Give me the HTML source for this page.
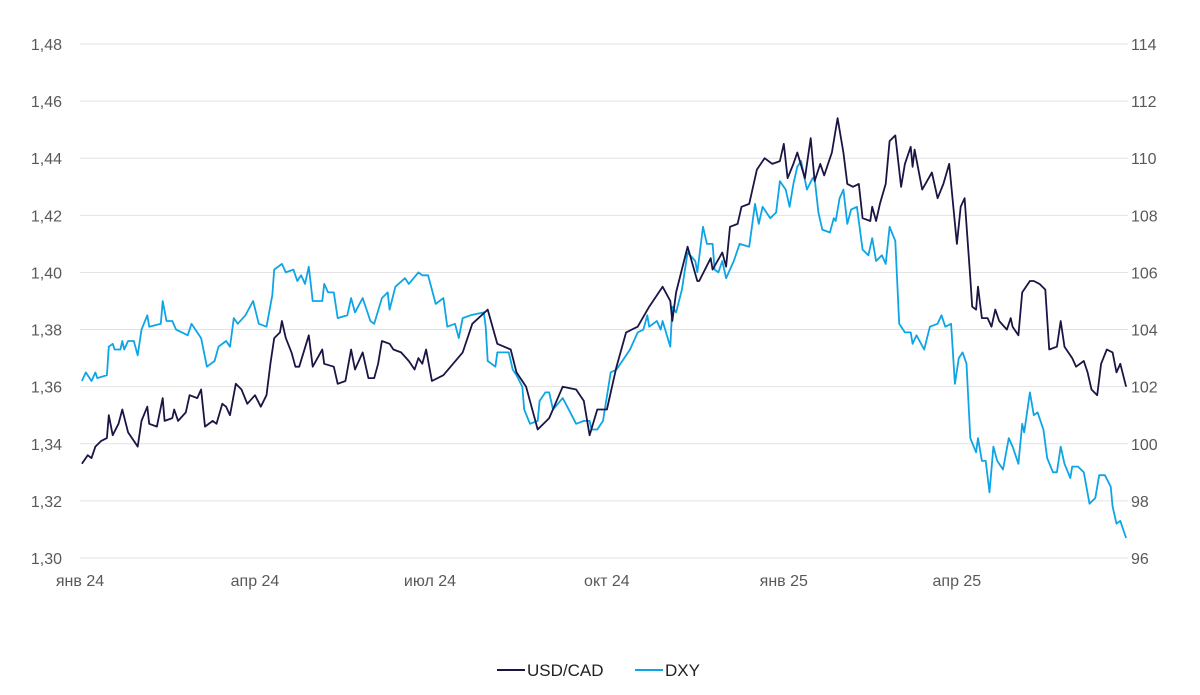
<!DOCTYPE html>
<html><head><meta charset="utf-8"><style>
html,body{margin:0;padding:0;background:#fff;}
svg{display:block;font-family:"Liberation Sans",Arial,sans-serif;}
</style></head><body>
<svg id="chart" width="1200" height="695" viewBox="0 0 1200 695"></svg>
<script>
const leftTicks=[1.30,1.32,1.34,1.36,1.38,1.40,1.42,1.44,1.46,1.48];
const rightTicks=[96,98,100,102,104,106,108,110,112,114];
const xTickLabels=["янв 24","апр 24","июл 24","окт 24","янв 25","апр 25"];
const xTickDays=[0,91,182,274,366,456];
const usdDays=[1,4,6,8,11,14,15,17,20,22,25,29,30,32,35,36,40,43,44,48,49,51,55,57,61,63,65,69,71,74,76,78,81,84,87,91,94,97,99,101,104,105,107,110,112,114,119,121,126,127,132,134,138,141,143,147,150,153,155,157,161,163,167,171,174,176,178,180,183,189,199,204,212,217,224,227,232,238,244,251,258,262,265,269,274,279,284,290,296,303,307,308,310,316,321,322,328,329,334,336,338,342,344,348,352,356,360,364,366,368,371,373,377,380,382,385,387,391,394,397,399,402,405,407,411,412,414,416,419,421,424,427,429,432,433,434,438,443,446,449,452,456,458,460,463,464,466,467,469,472,474,476,478,482,484,485,488,490,494,496,499,502,504,508,510,512,516,518,522,524,526,529,531,534,537,539,541,544];
const usdVals=[1.333,1.336,1.335,1.339,1.341,1.342,1.350,1.343,1.347,1.352,1.344,1.340,1.339,1.348,1.353,1.347,1.346,1.356,1.348,1.349,1.352,1.348,1.351,1.357,1.356,1.359,1.346,1.348,1.347,1.354,1.353,1.350,1.361,1.359,1.354,1.357,1.353,1.357,1.368,1.377,1.379,1.383,1.377,1.372,1.367,1.367,1.378,1.367,1.373,1.368,1.367,1.361,1.362,1.373,1.366,1.372,1.363,1.363,1.368,1.376,1.375,1.373,1.372,1.369,1.366,1.370,1.368,1.373,1.362,1.364,1.372,1.382,1.387,1.375,1.373,1.365,1.360,1.345,1.349,1.360,1.359,1.355,1.343,1.352,1.352,1.367,1.379,1.381,1.388,1.395,1.390,1.383,1.393,1.409,1.397,1.397,1.405,1.401,1.407,1.402,1.416,1.417,1.423,1.424,1.436,1.440,1.438,1.439,1.445,1.433,1.438,1.442,1.433,1.447,1.432,1.438,1.434,1.442,1.454,1.442,1.431,1.430,1.431,1.419,1.418,1.423,1.418,1.424,1.431,1.446,1.448,1.430,1.438,1.444,1.437,1.443,1.429,1.435,1.426,1.431,1.438,1.410,1.423,1.426,1.398,1.388,1.387,1.395,1.384,1.384,1.381,1.387,1.383,1.380,1.384,1.381,1.378,1.393,1.397,1.397,1.396,1.394,1.373,1.374,1.383,1.374,1.370,1.367,1.369,1.365,1.359,1.357,1.368,1.373,1.372,1.365,1.368,1.360];
const dxyDays=[1,3,6,8,9,14,15,17,18,21,22,23,25,28,30,32,35,36,42,43,45,48,50,56,58,63,66,70,72,76,78,80,82,86,90,93,97,100,101,105,107,111,113,115,117,119,121,126,127,129,132,134,139,141,143,147,151,153,157,160,161,164,169,171,176,178,181,185,189,191,195,197,199,203,210,211,212,216,217,223,225,227,230,231,234,238,239,242,244,246,251,255,258,262,265,266,269,272,276,279,282,286,290,293,295,296,300,302,303,307,308,310,313,316,320,321,324,326,329,330,332,334,336,340,343,348,351,353,355,359,362,364,367,369,371,373,375,378,381,382,384,386,390,392,393,395,397,399,401,404,407,410,412,414,417,419,421,424,426,429,432,433,435,439,442,446,448,450,453,455,457,459,461,463,466,467,469,471,473,475,477,480,483,485,488,490,491,494,496,498,501,503,506,508,510,512,515,516,519,522,525,528,530,533,536,537,539,541,544];
const dxyVals=[102.2,102.5,102.2,102.5,102.3,102.4,103.4,103.5,103.3,103.3,103.6,103.3,103.6,103.6,103.1,104.0,104.5,104.1,104.2,105.0,104.3,104.3,104.0,103.8,104.2,103.7,102.7,102.9,103.4,103.6,103.4,104.4,104.2,104.5,105.0,104.2,104.1,105.2,106.1,106.3,106.0,106.1,105.7,105.9,105.6,106.2,105.0,105.0,105.6,105.3,105.3,104.4,104.5,105.1,104.6,105.1,104.3,104.2,105.1,105.3,104.7,105.5,105.8,105.6,106.0,105.9,105.9,104.9,105.1,104.1,104.2,103.7,104.4,104.5,104.6,104.1,102.9,102.7,103.2,103.2,102.6,102.4,102.0,101.2,100.7,100.8,101.5,101.8,101.8,101.2,101.6,101.1,100.7,100.8,100.8,100.5,100.5,100.8,102.5,102.6,102.9,103.3,103.9,104.0,104.5,104.1,104.3,104.0,104.3,103.4,104.8,104.6,105.4,106.7,106.4,106.0,107.6,107.0,107.0,106.1,106.0,106.4,105.8,106.4,107.0,106.9,108.4,107.7,108.3,107.9,108.1,109.2,108.9,108.3,109.1,109.7,109.9,108.9,109.3,109.3,108.1,107.5,107.4,107.9,107.8,108.6,108.9,107.7,108.2,108.3,106.8,106.6,107.2,106.4,106.6,106.3,107.6,107.1,104.2,103.9,103.9,103.5,103.8,103.3,104.1,104.2,104.5,104.1,104.2,102.1,103.0,103.2,102.8,100.2,99.7,100.2,99.4,99.4,98.3,99.9,99.4,99.1,100.2,99.9,99.3,100.7,100.4,101.8,101.0,101.1,100.5,99.5,99.0,99.0,99.9,99.3,98.8,99.2,99.2,99.0,97.9,98.1,98.9,98.9,98.5,97.8,97.2,97.3,96.7];

const NS="http://www.w3.org/2000/svg";
const svg=document.getElementById('chart');
const X0=80,X1=1128,Y0=558,Y1=44,DMAX=545;
const xs=d=>X0+d*(X1-X0)/DMAX;
const yL=v=>Y0-(v-1.30)/(1.48-1.30)*(Y0-Y1);
const yR=v=>Y0-(v-96)/(114-96)*(Y0-Y1);
function mk(tag,attrs){const e=document.createElementNS(NS,tag);for(const k in attrs)e.setAttribute(k,attrs[k]);svg.appendChild(e);return e;}

leftTicks.forEach((t,i)=>{
  const y=yL(t);
  const g=mk('line',{x1:X0,x2:X1,y1:y,y2:y,stroke:'#e3e3e3','stroke-width':1});
  
  
  const l=mk('text',{x:62,y:y+6,'text-anchor':'end','font-size':16,fill:'#595959'});
  l.textContent=t.toFixed(2).replace('.',',');
  
  
  const r=mk('text',{x:1131,y:yR(rightTicks[i])+6,'text-anchor':'start','font-size':16,fill:'#595959'});
  r.textContent=rightTicks[i];
  
  
});
xTickLabels.forEach((s,i)=>{
  const t=mk('text',{x:xs(xTickDays[i]),y:586,'text-anchor':'middle','font-size':16,fill:'#595959'});
  t.textContent=s;
  
  
});
function line(days,vals,yf,color,name){
  const d=days.map((x,i)=>(i?'L':'M')+xs(x).toFixed(1)+' '+yf(vals[i]).toFixed(1)).join(' ');
  const p=mk('path',{d:d,fill:'none',stroke:color,'stroke-width':1.8,'stroke-linejoin':'round'});
  
  
}
line(dxyDays,dxyVals,yR,'#0ea5e6','dxy-line');
line(usdDays,usdVals,yL,'#1b1545','usdcad-line');

const l1=mk('line',{x1:497,x2:525,y1:670,y2:670,stroke:'#1b1545','stroke-width':2});


const t1=mk('text',{x:527,y:676,'font-size':17,fill:'#222'});t1.textContent='USD/CAD';


const l2=mk('line',{x1:635,x2:663,y1:670,y2:670,stroke:'#0ea5e6','stroke-width':2});


const t2=mk('text',{x:665,y:676,'font-size':17,fill:'#222'});t2.textContent='DXY';


</script>
</body></html>
